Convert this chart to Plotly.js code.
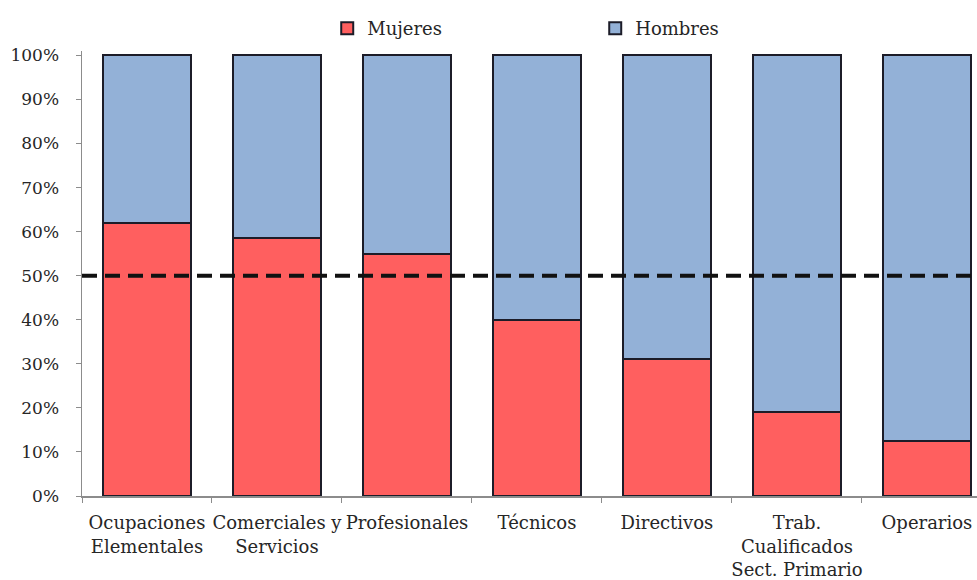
<!DOCTYPE html>
<html>
<head>
<meta charset="utf-8">
<script src="https://cdn.plot.ly/plotly-3.0.1.min.js"></script>
<style>
  html, body { margin: 0; padding: 0; background: #ffffff; }
  #chart { width: 977px; height: 580px; }
</style>
</head>
<body>
<div id="chart"></div>
<script>
// Occupational groups and the share of women / men in each (percent)
const categories = [
  'Ocupaciones<br>Elementales',
  'Comerciales y<br>Servicios',
  'Profesionales',
  'Técnicos',
  'Directivos',
  'Trab.<br>Cualificados<br>Sect. Primario',
  'Operarios'
];
const mujeres = [62, 58.5, 55, 40, 31, 19, 12.5];
const hombres = [38, 41.5, 45, 60, 69, 81, 87.5];
const parity = 50;

const yTicks = [0, 10, 20, 30, 40, 50, 60, 70, 80, 90, 100];

const fontFamily = '"DejaVu Serif", "Liberation Serif", serif';
const textColor = '#262626';
const outline = { color: '#1c1c28', width: 2 };

const traces = [
  {
    type: 'bar',
    name: 'Mujeres',
    x: categories,
    y: mujeres,
    marker: { color: '#ff5f5f', line: outline },
    hoverinfo: 'skip'
  },
  {
    type: 'bar',
    name: 'Hombres',
    x: categories,
    y: hombres,
    marker: { color: '#93b1d7', line: outline },
    hoverinfo: 'skip'
  }
];

const layout = {
  width: 977,
  height: 580,
  margin: { l: 82, r: 0, t: 51, b: 84 },
  paper_bgcolor: '#ffffff',
  plot_bgcolor: '#ffffff',
  barmode: 'stack',
  bargap: 0.33,
  font: { family: fontFamily, size: 18, color: textColor },
  showlegend: true,
  legend: {
    orientation: 'h',
    x: 0.274,
    xanchor: 'left',
    y: 1.009,
    yanchor: 'bottom',
    entrywidth: 223,
    entrywidthmode: 'pixels',
    traceorder: 'normal',
    font: { family: fontFamily, size: 18, color: textColor },
    bgcolor: 'rgba(0,0,0,0)'
  },
  xaxis: {
    type: 'category',
    range: [-0.5, 6.385],
    showgrid: false,
    zeroline: false,
    showline: true,
    linecolor: '#8c8c8c',
    linewidth: 1.5,
    ticks: 'outside',
    tickson: 'boundaries',
    ticklen: 5,
    tickcolor: '#8c8c8c',
    tickangle: 0,
    tickfont: { family: fontFamily, size: 18, color: textColor },
    ticklabelstandoff: 10,
    fixedrange: true
  },
  yaxis: {
    range: [0, 101],
    tickvals: yTicks,
    ticktext: yTicks.map(v => v + '%'),
    showgrid: false,
    zeroline: false,
    showline: true,
    linecolor: '#8c8c8c',
    linewidth: 1.5,
    ticks: 'outside',
    ticklen: 5,
    tickcolor: '#8c8c8c',
    tickfont: { family: fontFamily, size: 17, color: textColor },
    ticklabelstandoff: 13,
    fixedrange: true
  },
  shapes: [
    {
      type: 'line',
      xref: 'paper',
      yref: 'y',
      x0: 0,
      x1: 1,
      y0: parity,
      y1: parity,
      line: { color: '#111111', width: 4, dash: '15px,8px' },
      layer: 'above'
    }
  ]
};

Plotly.newPlot('chart', traces, layout, { displayModeBar: false, staticPlot: true });
</script>
</body>
</html>
